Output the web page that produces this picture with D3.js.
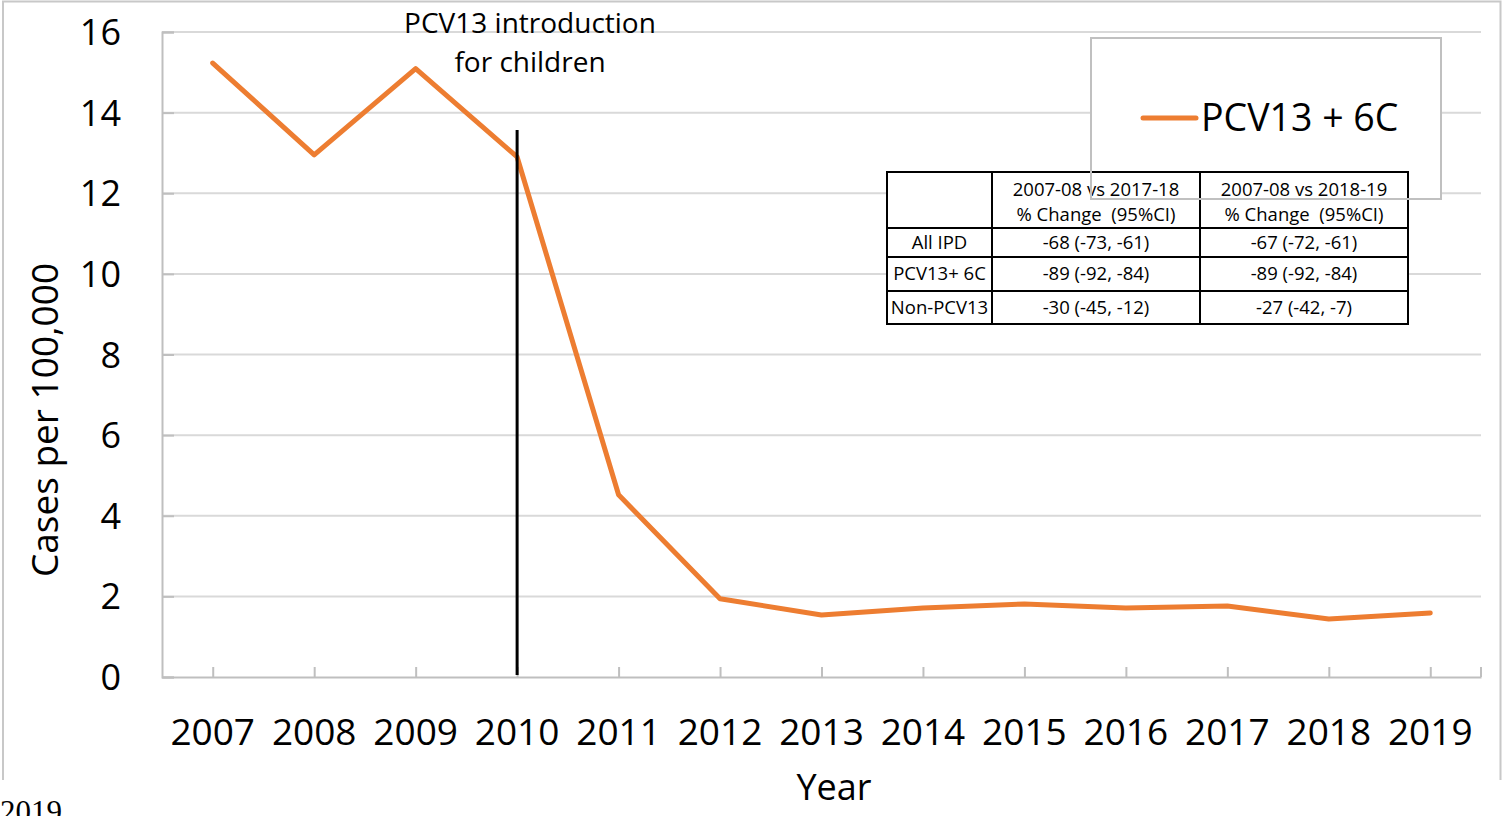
<!DOCTYPE html>
<html><head><meta charset="utf-8">
<script src="https://cdn.jsdelivr.net/npm/d3@7"></script>
<style>
html,body{margin:0;padding:0;background:#fff;overflow:hidden}
svg{display:block}
text{font-family:"Open Sans","Noto Sans",sans-serif;fill:#000;white-space:pre}
</style></head><body>
<svg id="chart" width="1505" height="816"></svg>
<script>
const years = [2007,2008,2009,2010,2011,2012,2013,2014,2015,2016,2017,2018,2019];
const rates = [15.23,12.95,15.09,12.9,4.52,1.94,1.54,1.71,1.81,1.71,1.76,1.44,1.59];
const yTicks = [0,2,4,6,8,10,12,14,16];
const seriesName = "PCV13 + 6C";
const interventionYear = 2010;
const annotationLines = ["PCV13 introduction","for children"];
const yTitle = "Cases per 100,000";
const xTitle = "Year";
const tableHeader = [["", ""],["2007-08 vs 2017-18","% Change  (95%CI)"],["2007-08 vs 2018-19","% Change  (95%CI)"]];
const tableRowLabels = ["All IPD","PCV13+ 6C","Non-PCV13"];
const tableCol1 = ["-68 (-73, -61)","-89 (-92, -84)","-30 (-45, -12)"];
const tableCol2 = ["-67 (-72, -61)","-89 (-92, -84)","-27 (-42, -7)"];

const svg = d3.select("#chart");
const orange = "#ED7D31";
const L = 162, R = 1481, T = 32, B = 677;

const x = d3.scalePoint().domain(years).range([L, R]).padding(0.5);
const y = d3.scaleLinear().domain([0,16]).range([B, T]);

// outer frame
svg.append("path").attr("d","M3,780V1.5H1500.5V780").attr("fill","none").attr("stroke","#c8c8c8").attr("stroke-width",2);

// gridlines
svg.append("g").selectAll("line").data(yTicks.filter(d=>d>0)).join("line")
  .attr("x1",L).attr("x2",R).attr("y1",d=>y(d)).attr("y2",d=>y(d))
  .attr("stroke","#d9d9d9").attr("stroke-width",2);

// y axis
const yAxis = svg.append("g").attr("transform",`translate(${L},0)`)
  .call(d3.axisLeft(y).tickValues(yTicks).tickSize(-12).tickFormat(""));
yAxis.select(".domain").attr("stroke","#bfbfbf").attr("stroke-width",2);
yAxis.selectAll(".tick line").attr("stroke","#bfbfbf").attr("stroke-width",2);
svg.append("g").selectAll("text").data(yTicks).join("text")
  .attr("x",121).attr("y",d=>y(d)+13).attr("text-anchor","end")
  .attr("font-size",36).text(d=>d);

// x axis
const xAxis = svg.append("g").attr("transform",`translate(0,${B})`)
  .call(d3.axisBottom(x).tickSize(-10).tickSizeOuter(0).tickFormat(""));
xAxis.select(".domain").attr("stroke","#bfbfbf").attr("stroke-width",2);
xAxis.selectAll(".tick line").attr("stroke","#bfbfbf").attr("stroke-width",2);
svg.append("line").attr("x1",R).attr("x2",R).attr("y1",B-10).attr("y2",B)
  .attr("stroke","#bfbfbf").attr("stroke-width",2);
svg.append("g").selectAll("text").data(years).join("text")
  .attr("x",d=>x(d)).attr("y",745).attr("text-anchor","middle")
  .attr("font-size",37).text(d=>d);

// axis titles
svg.append("text").attr("x",834).attr("y",800).attr("text-anchor","middle")
  .attr("font-size",36).text(xTitle);
svg.append("text").attr("transform","translate(58,420) rotate(-90)").attr("text-anchor","middle")
  .attr("font-size",37).text(yTitle);

// series line
svg.append("path").datum(years.map((yr,i)=>[yr,rates[i]]))
  .attr("d",d3.line().x(d=>x(d[0])).y(d=>y(d[1])))
  .attr("fill","none").attr("stroke",orange).attr("stroke-width",5)
  .attr("stroke-linejoin","round").attr("stroke-linecap","round");

// intervention line
svg.append("line").attr("x1",x(interventionYear)).attr("x2",x(interventionYear))
  .attr("y1",130).attr("y2",675).attr("stroke","#000").attr("stroke-width",3);
svg.append("g").selectAll("text").data(annotationLines).join("text")
  .attr("x",530).attr("y",(d,i)=>33+i*39).attr("text-anchor","middle")
  .attr("font-size",28).text(d=>d);

// legend box fill
svg.append("rect").attr("x",1091).attr("y",38).attr("width",350).attr("height",161)
  .attr("fill","#fff");

// table
const colX = [887,992,1200,1408];
const rowY = [172,228,257,291,324];
const tg = svg.append("g");
tg.append("rect").attr("x",colX[0]).attr("y",rowY[0]).attr("width",colX[3]-colX[0])
  .attr("height",rowY[4]-rowY[0]).attr("fill","#fff");
const tfs = 18.5;
// header
[1,2].forEach(c=>{
  tableHeader[c].forEach((t,k)=>{
    tg.append("text").attr("x",(colX[c]+colX[c+1])/2).attr("y",196+k*25)
      .attr("text-anchor","middle").attr("font-size",tfs).text(t);
  });
});
tableRowLabels.forEach((lab,r)=>{
  const cy = (rowY[r+1]+rowY[r+2])/2 + 6;
  tg.append("text").attr("x",(colX[0]+colX[1])/2).attr("y",cy).attr("text-anchor","middle").attr("font-size",tfs).text(lab);
  tg.append("text").attr("x",(colX[1]+colX[2])/2).attr("y",cy).attr("text-anchor","middle").attr("font-size",tfs).text(tableCol1[r]);
  tg.append("text").attr("x",(colX[2]+colX[3])/2).attr("y",cy).attr("text-anchor","middle").attr("font-size",tfs).text(tableCol2[r]);
});
// table lines
rowY.forEach(yy=>tg.append("line").attr("x1",colX[0]-1).attr("x2",colX[3]+1).attr("y1",yy).attr("y2",yy).attr("stroke","#000").attr("stroke-width",2));
colX.forEach(xx=>tg.append("line").attr("x1",xx).attr("x2",xx).attr("y1",rowY[0]).attr("y2",rowY[4]).attr("stroke","#000").attr("stroke-width",2));

// legend border on top
svg.append("rect").attr("x",1091).attr("y",38).attr("width",350).attr("height",161)
  .attr("fill","none").attr("stroke","#c0c0c0").attr("stroke-width",2);
svg.append("line").attr("x1",1143).attr("x2",1196).attr("y1",118).attr("y2",118)
  .attr("stroke",orange).attr("stroke-width",5).attr("stroke-linecap","round");
svg.append("text").attr("x",1201).attr("y",131).attr("font-size",37.5).text(seriesName);

// stray caption fragment bottom-left (cut off at the edge as in the reference)
svg.append("text").attr("x",0).attr("y",822).attr("font-size",31)
  .style("font-family","'Liberation Serif','DejaVu Serif',serif").text("2019");
</script>
</body></html>
